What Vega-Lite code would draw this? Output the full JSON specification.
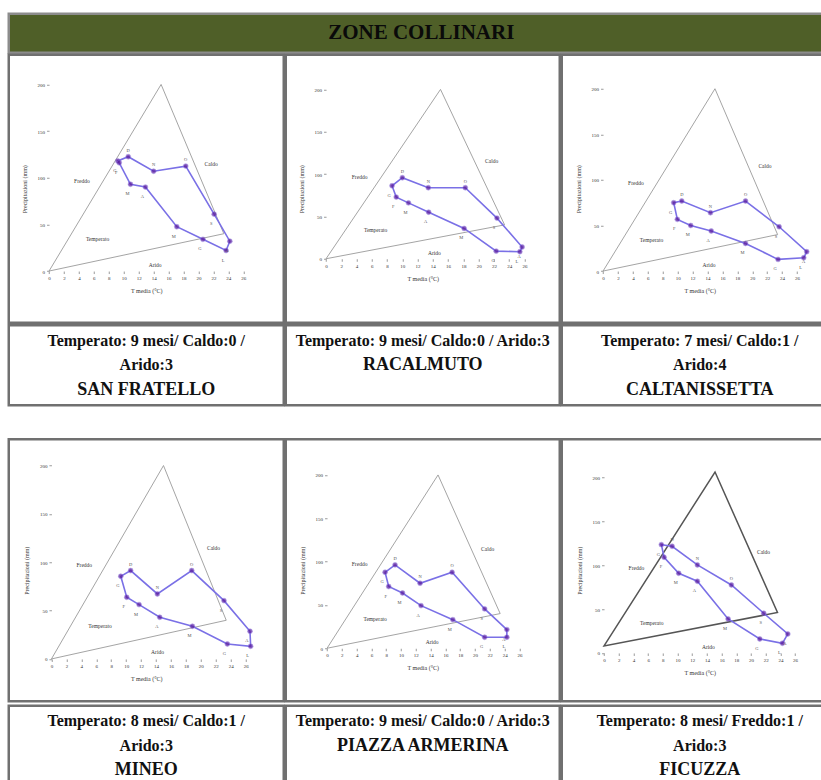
{
  "$schema": "https://vega.github.io/schema/vega-lite/v6.json",
  "background": "white",
  "padding": {"left": 6.75, "top": 11.75, "right": 0, "bottom": 0},
  "config": {
    "view": {"stroke": "#707070", "strokeWidth": 2.5},
    "axis": {"domain": false, "grid": false, "labelFont": "Liberation Serif", "labelFontSize": 5, "labelColor": "#333", "tickColor": "#9a9a9a", "tickSize": 2.5, "labelPadding": 2, "titleFont": "Liberation Serif", "titleFontSize": 6, "titleFontWeight": "normal", "titleColor": "#333"},
    "axisX": {"titlePadding": 7},
    "axisY": {"titlePadding": 10}
  },
  "datasets": {
    "clima": [
      {"s": "SAN FRATELLO", "m": 1, "lab": "G", "T": 9.2, "P": 118},
      {"s": "SAN FRATELLO", "m": 2, "lab": "F", "T": 9.4, "P": 116},
      {"s": "SAN FRATELLO", "m": 3, "lab": "M", "T": 10.9, "P": 93},
      {"s": "SAN FRATELLO", "m": 4, "lab": "A", "T": 12.9, "P": 90},
      {"s": "SAN FRATELLO", "m": 5, "lab": "M", "T": 17.1, "P": 47.5},
      {"s": "SAN FRATELLO", "m": 6, "lab": "G", "T": 20.6, "P": 34},
      {"s": "SAN FRATELLO", "m": 7, "lab": "L", "T": 23.7, "P": 22},
      {"s": "SAN FRATELLO", "m": 8, "lab": "A", "T": 24.2, "P": 32},
      {"s": "SAN FRATELLO", "m": 9, "lab": "S", "T": 22.1, "P": 61},
      {"s": "SAN FRATELLO", "m": 10, "lab": "O", "T": 18.3, "P": 112.5},
      {"s": "SAN FRATELLO", "m": 11, "lab": "N", "T": 14.0, "P": 107},
      {"s": "SAN FRATELLO", "m": 12, "lab": "D", "T": 10.6, "P": 122.5},
      {"s": "RACALMUTO", "m": 1, "lab": "G", "T": 8.65, "P": 86.2},
      {"s": "RACALMUTO", "m": 2, "lab": "F", "T": 9.2, "P": 72.8},
      {"s": "RACALMUTO", "m": 3, "lab": "M", "T": 10.8, "P": 66},
      {"s": "RACALMUTO", "m": 4, "lab": "A", "T": 13.45, "P": 55},
      {"s": "RACALMUTO", "m": 5, "lab": "M", "T": 18.1, "P": 35.8},
      {"s": "RACALMUTO", "m": 6, "lab": "G", "T": 22.3, "P": 9},
      {"s": "RACALMUTO", "m": 7, "lab": "L", "T": 25.4, "P": 8.3},
      {"s": "RACALMUTO", "m": 8, "lab": "A", "T": 25.7, "P": 13.8},
      {"s": "RACALMUTO", "m": 9, "lab": "S", "T": 22.4, "P": 48},
      {"s": "RACALMUTO", "m": 10, "lab": "O", "T": 18.25, "P": 83.9},
      {"s": "RACALMUTO", "m": 11, "lab": "N", "T": 13.4, "P": 83.9},
      {"s": "RACALMUTO", "m": 12, "lab": "D", "T": 10.0, "P": 95.7},
      {"s": "CALTANISSETTA", "m": 1, "lab": "G", "T": 9.47, "P": 75},
      {"s": "CALTANISSETTA", "m": 2, "lab": "F", "T": 9.96, "P": 56.7},
      {"s": "CALTANISSETTA", "m": 3, "lab": "M", "T": 11.75, "P": 50},
      {"s": "CALTANISSETTA", "m": 4, "lab": "A", "T": 14.5, "P": 43.9},
      {"s": "CALTANISSETTA", "m": 5, "lab": "M", "T": 19.1, "P": 30.3},
      {"s": "CALTANISSETTA", "m": 6, "lab": "G", "T": 23.46, "P": 12.8},
      {"s": "CALTANISSETTA", "m": 7, "lab": "L", "T": 26.9, "P": 14.6},
      {"s": "CALTANISSETTA", "m": 8, "lab": "A", "T": 27.3, "P": 21.2},
      {"s": "CALTANISSETTA", "m": 9, "lab": "S", "T": 23.6, "P": 48.6},
      {"s": "CALTANISSETTA", "m": 10, "lab": "O", "T": 19.1, "P": 76.8},
      {"s": "CALTANISSETTA", "m": 11, "lab": "N", "T": 14.4, "P": 64},
      {"s": "CALTANISSETTA", "m": 12, "lab": "D", "T": 10.55, "P": 76.8},
      {"s": "MINEO", "m": 1, "lab": "G", "T": 9.28, "P": 85.5},
      {"s": "MINEO", "m": 2, "lab": "F", "T": 10.08, "P": 63.8},
      {"s": "MINEO", "m": 3, "lab": "M", "T": 11.73, "P": 56.2},
      {"s": "MINEO", "m": 4, "lab": "A", "T": 14.5, "P": 43.1},
      {"s": "MINEO", "m": 5, "lab": "M", "T": 18.87, "P": 33.8},
      {"s": "MINEO", "m": 6, "lab": "G", "T": 23.55, "P": 15.5},
      {"s": "MINEO", "m": 7, "lab": "L", "T": 26.67, "P": 13.1},
      {"s": "MINEO", "m": 8, "lab": "A", "T": 26.58, "P": 28.6},
      {"s": "MINEO", "m": 9, "lab": "S", "T": 23.1, "P": 60.3},
      {"s": "MINEO", "m": 10, "lab": "O", "T": 18.78, "P": 91.4},
      {"s": "MINEO", "m": 11, "lab": "N", "T": 14.18, "P": 67.2},
      {"s": "MINEO", "m": 12, "lab": "D", "T": 10.6, "P": 91.4},
      {"s": "PIAZZA ARMERINA", "m": 1, "lab": "G", "T": 7.84, "P": 87.7},
      {"s": "PIAZZA ARMERINA", "m": 2, "lab": "F", "T": 8.33, "P": 71.2},
      {"s": "PIAZZA ARMERINA", "m": 3, "lab": "M", "T": 10.2, "P": 63.8},
      {"s": "PIAZZA ARMERINA", "m": 4, "lab": "A", "T": 12.7, "P": 49.2},
      {"s": "PIAZZA ARMERINA", "m": 5, "lab": "M", "T": 17.0, "P": 33},
      {"s": "PIAZZA ARMERINA", "m": 6, "lab": "G", "T": 21.3, "P": 12.7},
      {"s": "PIAZZA ARMERINA", "m": 7, "lab": "L", "T": 24.3, "P": 12.7},
      {"s": "PIAZZA ARMERINA", "m": 8, "lab": "A", "T": 24.3, "P": 21.5},
      {"s": "PIAZZA ARMERINA", "m": 9, "lab": "S", "T": 21.3, "P": 45.4},
      {"s": "PIAZZA ARMERINA", "m": 10, "lab": "O", "T": 16.9, "P": 87.7},
      {"s": "PIAZZA ARMERINA", "m": 11, "lab": "N", "T": 12.57, "P": 75},
      {"s": "PIAZZA ARMERINA", "m": 12, "lab": "D", "T": 9.19, "P": 96.2},
      {"s": "FICUZZA", "m": 1, "lab": "G", "T": 7.8, "P": 123.3},
      {"s": "FICUZZA", "m": 2, "lab": "F", "T": 8.17, "P": 108.9},
      {"s": "FICUZZA", "m": 3, "lab": "M", "T": 10.16, "P": 90.7},
      {"s": "FICUZZA", "m": 4, "lab": "A", "T": 12.7, "P": 81.6},
      {"s": "FICUZZA", "m": 5, "lab": "M", "T": 16.88, "P": 38.7},
      {"s": "FICUZZA", "m": 6, "lab": "G", "T": 21.19, "P": 15.9},
      {"s": "FICUZZA", "m": 7, "lab": "L", "T": 24.27, "P": 11},
      {"s": "FICUZZA", "m": 8, "lab": "A", "T": 25.0, "P": 21.6},
      {"s": "FICUZZA", "m": 9, "lab": "S", "T": 21.73, "P": 45.2},
      {"s": "FICUZZA", "m": 10, "lab": "O", "T": 17.33, "P": 77.4},
      {"s": "FICUZZA", "m": 11, "lab": "N", "T": 12.7, "P": 100.2},
      {"s": "FICUZZA", "m": 12, "lab": "D", "T": 9.26, "P": 121.4}
    ],
    "tri": [
      {"g": "std", "v": 1, "T": 0, "P": 0},
      {"g": "std", "v": 2, "T": 15, "P": 200},
      {"g": "std", "v": 3, "T": 23.4, "P": 40},
      {"g": "fic", "v": 1, "T": 0, "P": 8},
      {"g": "fic", "v": 2, "T": 15.1, "P": 206},
      {"g": "fic", "v": 3, "T": 23.6, "P": 46}
    ],
    "zone": [
      {"z": "Freddo", "T": 4.4, "P": 97},
      {"z": "Caldo", "T": 21.7, "P": 115},
      {"z": "Temperato", "T": 6.5, "P": 34},
      {"z": "Arido", "T": 14.2, "P": 7}
    ],
    "cap": [
      {"s": "SAN FRATELLO", "line": 1, "text": "Temperato: 9 mesi/ Caldo:0 /", "name": false},
      {"s": "SAN FRATELLO", "line": 2, "text": "Arido:3", "name": false},
      {"s": "SAN FRATELLO", "line": 3, "text": "SAN FRATELLO", "name": true},
      {"s": "RACALMUTO", "line": 1, "text": "Temperato: 9 mesi/ Caldo:0 / Arido:3", "name": false},
      {"s": "RACALMUTO", "line": 2, "text": "RACALMUTO", "name": true},
      {"s": "CALTANISSETTA", "line": 1, "text": "Temperato: 7 mesi/ Caldo:1 /", "name": false},
      {"s": "CALTANISSETTA", "line": 2, "text": "Arido:4", "name": false},
      {"s": "CALTANISSETTA", "line": 3, "text": "CALTANISSETTA", "name": true},
      {"s": "MINEO", "line": 1, "text": "Temperato: 8 mesi/ Caldo:1 /", "name": false},
      {"s": "MINEO", "line": 2, "text": "Arido:3", "name": false},
      {"s": "MINEO", "line": 3, "text": "MINEO", "name": true},
      {"s": "PIAZZA ARMERINA", "line": 1, "text": "Temperato: 9 mesi/ Caldo:0 / Arido:3", "name": false},
      {"s": "PIAZZA ARMERINA", "line": 2, "text": "PIAZZA ARMERINA", "name": true},
      {"s": "FICUZZA", "line": 1, "text": "Temperato: 8 mesi/ Freddo:1 /", "name": false},
      {"s": "FICUZZA", "line": 2, "text": "Arido:3", "name": false},
      {"s": "FICUZZA", "line": 3, "text": "FICUZZA", "name": true}
    ]
  },
  "spacing": -4.5,
  "vconcat": [
    {
      "width": 825, "height": 39,
      "view": {"fill": "#4f5f28", "stroke": "#8c8c8c", "strokeWidth": 2.5},
      "data": {"values": [{"t": "ZONE COLLINARI"}]},
      "mark": {"type": "text", "font": "Liberation Serif", "fontWeight": "bold", "fontSize": 21, "color": "#0a0a0a"},
      "encoding": {"text": {"field": "t"}}
    },
    {
      "spacing": 30.5,
      "vconcat": [
        {
          "spacing": -2.5,
          "hconcat": [
            {
              "spacing": -1.5,
              "vconcat": [
                {
                  "width": 275, "height": 268,
                  "encoding": {
                    "x": {"field": "T", "type": "quantitative", "scale": {"domain": [-5.395, 31.42], "nice": false, "zero": false}, "axis": {"values": [0,2,4,6,8,10,12,14,16,18,20,22,24,26], "offset": -51.7, "title": "T media (°C)"}},
                    "y": {"field": "P", "type": "quantitative", "scale": {"domain": [-55.41, 231.83], "nice": false, "zero": false}, "axis": {"values": [0,50,100,150,200], "offset": -40.3, "title": "Precipitazioni (mm)"}}
                  },
                  "layer": [
                    {"data": {"values": [{}]}, "mark": {"type": "rule", "color": "#b8b8b8", "strokeWidth": 1}, "encoding": {"x": {"datum": 29.4}, "y": {"datum": -37}, "y2": {"datum": 204}}},
                    {"data": {"values": [{}]}, "mark": {"type": "rect", "filled": false, "color": "#a9a9a9", "strokeWidth": 0.8}, "encoding": {"x": {"datum": 0}, "x2": {"datum": 27}, "y": {"datum": 0}, "y2": {"datum": 200}}},
                    {"data": {"name": "tri"}, "transform": [{"filter": "datum.g === 'std'"}], "mark": {"type": "line", "interpolate": "linear-closed", "color": "#9a9a9a", "strokeWidth": 0.9}, "encoding": {"order": {"field": "v"}}},
                    {"data": {"name": "zone"}, "mark": {"type": "text", "font": "Liberation Serif", "fontSize": 5.5, "color": "#333"}, "encoding": {"text": {"field": "z"}}},
                    {"data": {"name": "clima"}, "transform": [{"filter": "datum.s === 'SAN FRATELLO'"}], "mark": {"type": "line", "interpolate": "linear-closed", "color": "#7a70e6", "strokeWidth": 1.6}, "encoding": {"order": {"field": "m"}}},
                    {"data": {"name": "clima"}, "transform": [{"filter": "datum.s === 'SAN FRATELLO'"}], "mark": {"type": "point", "filled": true, "shape": "circle", "size": 24, "color": "#58189c", "stroke": "#8d78e6", "strokeWidth": 0.6}},
                    {"data": {"name": "clima"}, "transform": [{"filter": "datum.s === 'SAN FRATELLO' && datum.m < 10"}], "mark": {"type": "text", "font": "Liberation Serif", "fontSize": 4.5, "dx": -3, "dy": 10, "color": "#555"}, "encoding": {"text": {"field": "lab"}}},
                    {"data": {"name": "clima"}, "transform": [{"filter": "datum.s === 'SAN FRATELLO' && datum.m >= 10"}], "mark": {"type": "text", "font": "Liberation Serif", "fontSize": 4.5, "dy": -6, "color": "#555"}, "encoding": {"text": {"field": "lab"}}}
                  ]
                },
                {
                  "width": 275, "height": 80,
                  "data": {"name": "cap"},
                  "transform": [{"filter": "datum.s === 'SAN FRATELLO'"}],
                  "encoding": {"y": {"field": "line", "type": "ordinal", "scale": {"type": "point", "domain": [1,2,3], "padding": 0.63}, "axis": null}, "text": {"field": "text"}},
                  "layer": [
                    {"transform": [{"filter": "!datum.name"}], "mark": {"type": "text", "font": "Liberation Serif", "fontWeight": "bold", "fontSize": 16, "color": "#111"}},
                    {"transform": [{"filter": "datum.name"}], "mark": {"type": "text", "font": "Liberation Serif", "fontWeight": "bold", "fontSize": 18, "color": "#111"}}
                  ]
                }
              ]
            },
            {
              "spacing": -1.5,
              "vconcat": [
                {
                  "width": 274, "height": 268,
                  "encoding": {
                    "x": {"field": "T", "type": "quantitative", "scale": {"domain": [-5.28, 30.63], "nice": false, "zero": false}, "axis": {"values": [0,2,4,6,8,10,12,14,16,18,20,22,24,26], "offset": -64, "title": "T media (°C)"}},
                    "y": {"field": "P", "type": "quantitative", "scale": {"domain": [-75.59, 240.94], "nice": false, "zero": false}, "axis": {"values": [0,50,100,150,200], "offset": -40.3, "title": "Precipitazioni (mm)"}}
                  },
                  "layer": [
                    {"data": {"values": [{}]}, "mark": {"type": "rect", "filled": false, "color": "#a9a9a9", "strokeWidth": 0.8}, "encoding": {"x": {"datum": 0}, "x2": {"datum": 27.3}, "y": {"datum": 0}, "y2": {"datum": 200}}},
                    {"data": {"name": "tri"}, "transform": [{"filter": "datum.g === 'std'"}], "mark": {"type": "line", "interpolate": "linear-closed", "color": "#9a9a9a", "strokeWidth": 0.9}, "encoding": {"order": {"field": "v"}}},
                    {"data": {"name": "zone"}, "mark": {"type": "text", "font": "Liberation Serif", "fontSize": 5.5, "color": "#333"}, "encoding": {"text": {"field": "z"}}},
                    {"data": {"name": "clima"}, "transform": [{"filter": "datum.s === 'RACALMUTO'"}], "mark": {"type": "line", "interpolate": "linear-closed", "color": "#7a70e6", "strokeWidth": 1.6}, "encoding": {"order": {"field": "m"}}},
                    {"data": {"name": "clima"}, "transform": [{"filter": "datum.s === 'RACALMUTO'"}], "mark": {"type": "point", "filled": true, "shape": "circle", "size": 24, "color": "#58189c", "stroke": "#8d78e6", "strokeWidth": 0.6}},
                    {"data": {"name": "clima"}, "transform": [{"filter": "datum.s === 'RACALMUTO' && datum.m < 10"}], "mark": {"type": "text", "font": "Liberation Serif", "fontSize": 4.5, "dx": -3, "dy": 10, "color": "#555"}, "encoding": {"text": {"field": "lab"}}},
                    {"data": {"name": "clima"}, "transform": [{"filter": "datum.s === 'RACALMUTO' && datum.m >= 10"}], "mark": {"type": "text", "font": "Liberation Serif", "fontSize": 4.5, "dy": -6, "color": "#555"}, "encoding": {"text": {"field": "lab"}}}
                  ]
                },
                {
                  "width": 274, "height": 80,
                  "data": {"name": "cap"},
                  "transform": [{"filter": "datum.s === 'RACALMUTO'"}],
                  "encoding": {"y": {"field": "line", "type": "ordinal", "scale": {"type": "point", "domain": [1,2,3], "padding": 0.63}, "axis": null}, "text": {"field": "text"}},
                  "layer": [
                    {"transform": [{"filter": "!datum.name"}], "mark": {"type": "text", "font": "Liberation Serif", "fontWeight": "bold", "fontSize": 16, "color": "#111"}},
                    {"transform": [{"filter": "datum.name"}], "mark": {"type": "text", "font": "Liberation Serif", "fontWeight": "bold", "fontSize": 18, "color": "#111"}}
                  ]
                }
              ]
            },
            {
              "spacing": -1.5,
              "vconcat": [
                {
                  "width": 276, "height": 268,
                  "encoding": {
                    "x": {"field": "T", "type": "quantitative", "scale": {"domain": [-5.536, 31.46], "nice": false, "zero": false}, "axis": {"values": [0,2,4,6,8,10,12,14,16,18,20,22,24,26], "offset": -51.7, "title": "T media (°C)"}},
                    "y": {"field": "P", "type": "quantitative", "scale": {"domain": [-56.72, 237.3], "nice": false, "zero": false}, "axis": {"values": [0,50,100,150,200], "offset": -41.3, "title": "Precipitazioni (mm)"}}
                  },
                  "layer": [
                    {"data": {"values": [{}]}, "mark": {"type": "rect", "filled": false, "color": "#a9a9a9", "strokeWidth": 0.8}, "encoding": {"x": {"datum": 0}, "x2": {"datum": 27.6}, "y": {"datum": 0}, "y2": {"datum": 200}}},
                    {"data": {"name": "tri"}, "transform": [{"filter": "datum.g === 'std'"}], "mark": {"type": "line", "interpolate": "linear-closed", "color": "#9a9a9a", "strokeWidth": 0.9}, "encoding": {"order": {"field": "v"}}},
                    {"data": {"name": "zone"}, "mark": {"type": "text", "font": "Liberation Serif", "fontSize": 5.5, "color": "#333"}, "encoding": {"text": {"field": "z"}}},
                    {"data": {"name": "clima"}, "transform": [{"filter": "datum.s === 'CALTANISSETTA'"}], "mark": {"type": "line", "interpolate": "linear-closed", "color": "#7a70e6", "strokeWidth": 1.6}, "encoding": {"order": {"field": "m"}}},
                    {"data": {"name": "clima"}, "transform": [{"filter": "datum.s === 'CALTANISSETTA'"}], "mark": {"type": "point", "filled": true, "shape": "circle", "size": 24, "color": "#58189c", "stroke": "#8d78e6", "strokeWidth": 0.6}},
                    {"data": {"name": "clima"}, "transform": [{"filter": "datum.s === 'CALTANISSETTA' && datum.m < 10"}], "mark": {"type": "text", "font": "Liberation Serif", "fontSize": 4.5, "dx": -3, "dy": 10, "color": "#555"}, "encoding": {"text": {"field": "lab"}}},
                    {"data": {"name": "clima"}, "transform": [{"filter": "datum.s === 'CALTANISSETTA' && datum.m >= 10"}], "mark": {"type": "text", "font": "Liberation Serif", "fontSize": 4.5, "dy": -6, "color": "#555"}, "encoding": {"text": {"field": "lab"}}}
                  ]
                },
                {
                  "width": 276, "height": 80,
                  "data": {"name": "cap"},
                  "transform": [{"filter": "datum.s === 'CALTANISSETTA'"}],
                  "encoding": {"y": {"field": "line", "type": "ordinal", "scale": {"type": "point", "domain": [1,2,3], "padding": 0.63}, "axis": null}, "text": {"field": "text"}},
                  "layer": [
                    {"transform": [{"filter": "!datum.name"}], "mark": {"type": "text", "font": "Liberation Serif", "fontWeight": "bold", "fontSize": 16, "color": "#111"}},
                    {"transform": [{"filter": "datum.name"}], "mark": {"type": "text", "font": "Liberation Serif", "fontWeight": "bold", "fontSize": 18, "color": "#111"}}
                  ]
                }
              ]
            }
          ]
        },
        {
          "spacing": -2.5,
          "hconcat": [
            {
              "spacing": 0.5,
              "vconcat": [
                {
                  "width": 275, "height": 262,
                  "encoding": {
                    "x": {"field": "T", "type": "quantitative", "scale": {"domain": [-5.716, 31.10], "nice": false, "zero": false}, "axis": {"values": [0,2,4,6,8,10,12,14,16,18,20,22,24,26], "offset": -42.3, "title": "T media (°C)"}},
                    "y": {"field": "P", "type": "quantitative", "scale": {"domain": [-43.74, 227.2], "nice": false, "zero": false}, "axis": {"values": [0,50,100,150,200], "offset": -42.7, "title": "Precipitazioni (mm)"}}
                  },
                  "layer": [
                    {"data": {"values": [{}]}, "mark": {"type": "rect", "filled": false, "color": "#a9a9a9", "strokeWidth": 0.8}, "encoding": {"x": {"datum": 0}, "x2": {"datum": 26.8}, "y": {"datum": 0}, "y2": {"datum": 200}}},
                    {"data": {"name": "tri"}, "transform": [{"filter": "datum.g === 'std'"}], "mark": {"type": "line", "interpolate": "linear-closed", "color": "#9a9a9a", "strokeWidth": 0.9}, "encoding": {"order": {"field": "v"}}},
                    {"data": {"name": "zone"}, "mark": {"type": "text", "font": "Liberation Serif", "fontSize": 5.5, "color": "#333"}, "encoding": {"text": {"field": "z"}}},
                    {"data": {"name": "clima"}, "transform": [{"filter": "datum.s === 'MINEO'"}], "mark": {"type": "line", "interpolate": "linear-closed", "color": "#7a70e6", "strokeWidth": 1.6}, "encoding": {"order": {"field": "m"}}},
                    {"data": {"name": "clima"}, "transform": [{"filter": "datum.s === 'MINEO'"}], "mark": {"type": "point", "filled": true, "shape": "circle", "size": 24, "color": "#58189c", "stroke": "#8d78e6", "strokeWidth": 0.6}},
                    {"data": {"name": "clima"}, "transform": [{"filter": "datum.s === 'MINEO' && datum.m < 10"}], "mark": {"type": "text", "font": "Liberation Serif", "fontSize": 4.5, "dx": -3, "dy": 10, "color": "#555"}, "encoding": {"text": {"field": "lab"}}},
                    {"data": {"name": "clima"}, "transform": [{"filter": "datum.s === 'MINEO' && datum.m >= 10"}], "mark": {"type": "text", "font": "Liberation Serif", "fontSize": 4.5, "dy": -6, "color": "#555"}, "encoding": {"text": {"field": "lab"}}}
                  ]
                },
                {
                  "width": 275, "height": 80,
                  "data": {"name": "cap"},
                  "transform": [{"filter": "datum.s === 'MINEO'"}],
                  "encoding": {"y": {"field": "line", "type": "ordinal", "scale": {"type": "point", "domain": [1,2,3], "padding": 0.63}, "axis": null}, "text": {"field": "text"}},
                  "layer": [
                    {"transform": [{"filter": "!datum.name"}], "mark": {"type": "text", "font": "Liberation Serif", "fontWeight": "bold", "fontSize": 16, "color": "#111"}},
                    {"transform": [{"filter": "datum.name"}], "mark": {"type": "text", "font": "Liberation Serif", "fontWeight": "bold", "fontSize": 18, "color": "#111"}}
                  ]
                }
              ]
            },
            {
              "spacing": 0.5,
              "vconcat": [
                {
                  "width": 274, "height": 262,
                  "encoding": {
                    "x": {"field": "T", "type": "quantitative", "scale": {"domain": [-5.581, 31.45], "nice": false, "zero": false}, "axis": {"values": [0,2,4,6,8,10,12,14,16,18,20,22,24,26], "offset": -53, "title": "T media (°C)"}},
                    "y": {"field": "P", "type": "quantitative", "scale": {"domain": [-61.17, 241.2], "nice": false, "zero": false}, "axis": {"values": [0,50,100,150,200], "offset": -41.3, "title": "Precipitazioni (mm)"}}
                  },
                  "layer": [
                    {"data": {"values": [{}]}, "mark": {"type": "rect", "filled": false, "color": "#a9a9a9", "strokeWidth": 0.8}, "encoding": {"x": {"datum": 0}, "x2": {"datum": 26.9}, "y": {"datum": 0}, "y2": {"datum": 200}}},
                    {"data": {"name": "tri"}, "transform": [{"filter": "datum.g === 'std'"}], "mark": {"type": "line", "interpolate": "linear-closed", "color": "#9a9a9a", "strokeWidth": 0.9}, "encoding": {"order": {"field": "v"}}},
                    {"data": {"name": "zone"}, "mark": {"type": "text", "font": "Liberation Serif", "fontSize": 5.5, "color": "#333"}, "encoding": {"text": {"field": "z"}}},
                    {"data": {"name": "clima"}, "transform": [{"filter": "datum.s === 'PIAZZA ARMERINA'"}], "mark": {"type": "line", "interpolate": "linear-closed", "color": "#7a70e6", "strokeWidth": 1.6}, "encoding": {"order": {"field": "m"}}},
                    {"data": {"name": "clima"}, "transform": [{"filter": "datum.s === 'PIAZZA ARMERINA'"}], "mark": {"type": "point", "filled": true, "shape": "circle", "size": 24, "color": "#58189c", "stroke": "#8d78e6", "strokeWidth": 0.6}},
                    {"data": {"name": "clima"}, "transform": [{"filter": "datum.s === 'PIAZZA ARMERINA' && datum.m < 10"}], "mark": {"type": "text", "font": "Liberation Serif", "fontSize": 4.5, "dx": -3, "dy": 10, "color": "#555"}, "encoding": {"text": {"field": "lab"}}},
                    {"data": {"name": "clima"}, "transform": [{"filter": "datum.s === 'PIAZZA ARMERINA' && datum.m >= 10"}], "mark": {"type": "text", "font": "Liberation Serif", "fontSize": 4.5, "dy": -6, "color": "#555"}, "encoding": {"text": {"field": "lab"}}}
                  ]
                },
                {
                  "width": 274, "height": 80,
                  "data": {"name": "cap"},
                  "transform": [{"filter": "datum.s === 'PIAZZA ARMERINA'"}],
                  "encoding": {"y": {"field": "line", "type": "ordinal", "scale": {"type": "point", "domain": [1,2,3], "padding": 0.63}, "axis": null}, "text": {"field": "text"}},
                  "layer": [
                    {"transform": [{"filter": "!datum.name"}], "mark": {"type": "text", "font": "Liberation Serif", "fontWeight": "bold", "fontSize": 16, "color": "#111"}},
                    {"transform": [{"filter": "datum.name"}], "mark": {"type": "text", "font": "Liberation Serif", "fontWeight": "bold", "fontSize": 18, "color": "#111"}}
                  ]
                }
              ]
            },
            {
              "spacing": 0.5,
              "vconcat": [
                {
                  "width": 276, "height": 262,
                  "encoding": {
                    "x": {"field": "T", "type": "quantitative", "scale": {"domain": [-5.755, 31.80], "nice": false, "zero": false}, "axis": {"values": [0,2,4,6,8,10,12,14,16,18,20,22,24,26], "offset": -48.3, "title": "T media (°C)"}},
                    "y": {"field": "P", "type": "quantitative", "scale": {"domain": [-54.98, 243.26], "nice": false, "zero": false}, "axis": {"values": [0,50,100,150,200], "offset": -42.3, "title": "Precipitazioni (mm)"}}
                  },
                  "layer": [
                    {"data": {"values": [{}]}, "mark": {"type": "rect", "filled": false, "color": "#c4c4c4", "strokeWidth": 1}, "encoding": {"x": {"datum": -4.26}, "x2": {"datum": 29.3}, "y": {"datum": -41.3}, "y2": {"datum": 222.9}}},
                    {"data": {"values": [{}]}, "mark": {"type": "rect", "filled": false, "color": "#a9a9a9", "strokeWidth": 0.8}, "encoding": {"x": {"datum": 0}, "x2": {"datum": 26.8}, "y": {"datum": 0}, "y2": {"datum": 200}}},
                    {"data": {"name": "tri"}, "transform": [{"filter": "datum.g === 'fic'"}], "mark": {"type": "line", "interpolate": "linear-closed", "color": "#555555", "strokeWidth": 1.5}, "encoding": {"order": {"field": "v"}}},
                    {"data": {"name": "zone"}, "mark": {"type": "text", "font": "Liberation Serif", "fontSize": 5.5, "color": "#333"}, "encoding": {"text": {"field": "z"}}},
                    {"data": {"name": "clima"}, "transform": [{"filter": "datum.s === 'FICUZZA'"}], "mark": {"type": "line", "interpolate": "linear-closed", "color": "#7a70e6", "strokeWidth": 1.6}, "encoding": {"order": {"field": "m"}}},
                    {"data": {"name": "clima"}, "transform": [{"filter": "datum.s === 'FICUZZA'"}], "mark": {"type": "point", "filled": true, "shape": "circle", "size": 24, "color": "#58189c", "stroke": "#8d78e6", "strokeWidth": 0.6}},
                    {"data": {"name": "clima"}, "transform": [{"filter": "datum.s === 'FICUZZA' && datum.m < 10"}], "mark": {"type": "text", "font": "Liberation Serif", "fontSize": 4.5, "dx": -3, "dy": 10, "color": "#555"}, "encoding": {"text": {"field": "lab"}}},
                    {"data": {"name": "clima"}, "transform": [{"filter": "datum.s === 'FICUZZA' && datum.m >= 10"}], "mark": {"type": "text", "font": "Liberation Serif", "fontSize": 4.5, "dy": -6, "color": "#555"}, "encoding": {"text": {"field": "lab"}}}
                  ]
                },
                {
                  "width": 276, "height": 80,
                  "data": {"name": "cap"},
                  "transform": [{"filter": "datum.s === 'FICUZZA'"}],
                  "encoding": {"y": {"field": "line", "type": "ordinal", "scale": {"type": "point", "domain": [1,2,3], "padding": 0.63}, "axis": null}, "text": {"field": "text"}},
                  "layer": [
                    {"transform": [{"filter": "!datum.name"}], "mark": {"type": "text", "font": "Liberation Serif", "fontWeight": "bold", "fontSize": 16, "color": "#111"}},
                    {"transform": [{"filter": "datum.name"}], "mark": {"type": "text", "font": "Liberation Serif", "fontWeight": "bold", "fontSize": 18, "color": "#111"}}
                  ]
                }
              ]
            }
          ]
        }
      ]
    }
  ]
}
